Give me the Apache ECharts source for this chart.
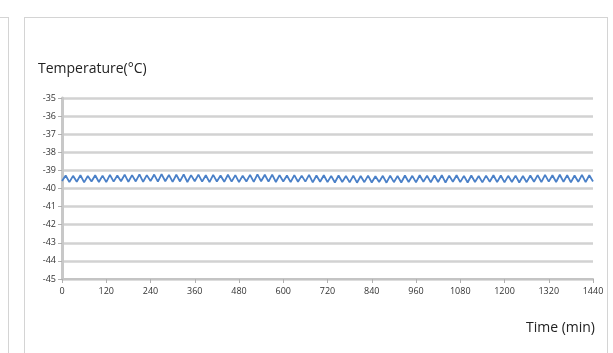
<!DOCTYPE html>
<html>
<head>
<meta charset="utf-8">
<script src="https://cdn.jsdelivr.net/npm/echarts@6/dist/echarts.min.js"></script>
<style>
  html, body { margin: 0; padding: 0; background: #fff; }
  #wrap { position: relative; width: 613px; height: 353px; overflow: hidden; }
  #leftPanel { position: absolute; left: -10px; top: 17px; width: 19px; height: 400px; border: 1px solid #d4d4d4; box-sizing: border-box; }
  #card { position: absolute; left: 24px; top: 17px; width: 584px; height: 400px; border: 1px solid #d4d4d4; box-sizing: border-box; }
  #chart { position: absolute; left: 0; top: 0; width: 613px; height: 353px; }
</style>
</head>
<body>
<div id="wrap">
  <div id="leftPanel"></div>
  <div id="card"></div>
  <div id="chart"></div>
</div>
<script>
// ---- data ----
const yAxisTitle = 'Temperature(°C)';
const xAxisTitle = 'Time (min)';
const xTicks = [0, 120, 240, 360, 480, 600, 720, 840, 960, 1080, 1200, 1320, 1440];
const yTicks = [-35, -36, -37, -38, -39, -40, -41, -42, -43, -44, -45];
const sampleStepMin = 10;
const temperatures = [
  -39.58,-39.28,-39.65,-39.30,-39.63,-39.26,-39.66,-39.31,-39.61,-39.27,
  -39.64,-39.29,-39.65,-39.25,-39.62,-39.28,-39.60,-39.23,-39.63,-39.26,
  -39.61,-39.22,-39.63,-39.26,-39.59,-39.23,-39.62,-39.21,-39.60,-39.25,
  -39.63,-39.24,-39.61,-39.22,-39.64,-39.26,-39.60,-39.23,-39.62,-39.27,
  -39.65,-39.25,-39.61,-39.28,-39.63,-39.24,-39.62,-39.26,-39.65,-39.29,
  -39.61,-39.25,-39.63,-39.22,-39.60,-39.24,-39.62,-39.23,-39.64,-39.26,
  -39.61,-39.28,-39.65,-39.26,-39.63,-39.29,-39.62,-39.25,-39.66,-39.28,
  -39.63,-39.27,-39.65,-39.30,-39.67,-39.28,-39.64,-39.31,-39.66,-39.29,
  -39.68,-39.31,-39.65,-39.29,-39.67,-39.32,-39.64,-39.30,-39.68,-39.29,
  -39.65,-39.31,-39.67,-39.28,-39.64,-39.30,-39.66,-39.27,-39.63,-39.29,
  -39.66,-39.28,-39.64,-39.26,-39.67,-39.29,-39.63,-39.27,-39.65,-39.30,
  -39.67,-39.28,-39.64,-39.31,-39.66,-39.29,-39.63,-39.27,-39.65,-39.28,
  -39.66,-39.30,-39.64,-39.29,-39.67,-39.31,-39.65,-39.28,-39.63,-39.26,
  -39.65,-39.25,-39.62,-39.27,-39.64,-39.24,-39.63,-39.26,-39.66,-39.28,
  -39.63,-39.25,-39.65,-39.27,-39.61
];

const seriesData = temperatures.map((v, i) => [i * sampleStepMin, v]);

const chart = echarts.init(document.getElementById('chart'), null, { renderer: 'canvas' });
const font = 'Open Sans, Noto Sans, sans-serif';
chart.setOption({
  animation: false,
  backgroundColor: 'transparent',
  grid: { left: 62, right: 20, top: 98, bottom: 74, containLabel: false },
  graphic: [
    { type: 'text', left: 38, top: 62, style: { text: yAxisTitle, font: '14px ' + font, fill: '#222' } },
    { type: 'text', right: 18, top: 321, style: { text: xAxisTitle, font: '14px ' + font, fill: '#222' } }
  ],
  xAxis: {
    type: 'value', min: xTicks[0], max: xTicks[xTicks.length - 1], interval: 120,
    axisLine: { show: true, lineStyle: { color: '#c4c4c4', width: 2 } },
    axisTick: { show: true, length: 4, lineStyle: { color: '#b0b0b0', width: 1 } },
    axisLabel: { color: '#333', fontSize: 9, fontFamily: font, margin: 8, formatter: v => String(v) },
    splitLine: { show: false }
  },
  yAxis: {
    type: 'value', min: -45, max: -35, interval: 1,
    axisLine: { show: true, lineStyle: { color: '#c8c8c8', width: 3 } },
    axisTick: { show: true, length: 4, lineStyle: { color: '#b0b0b0', width: 1 } },
    axisLabel: { color: '#333', fontSize: 9, fontFamily: font, margin: 6, formatter: v => String(v) },
    splitLine: { show: true, lineStyle: { color: '#d2d2d2', width: 2.5 } }
  },
  series: [{
    type: 'line', data: seriesData, showSymbol: false, smooth: false,
    lineStyle: { color: '#4a80c8', width: 1.8 }
  }]
});
</script>
</body>
</html>
